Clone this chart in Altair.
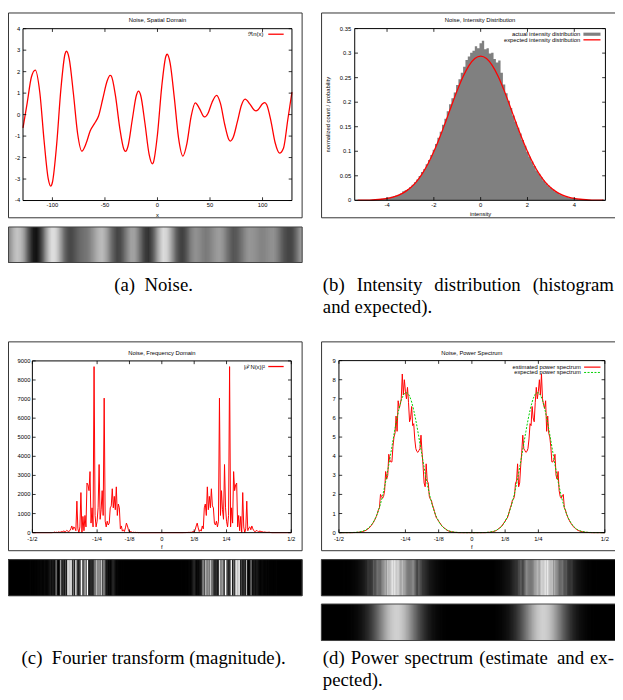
import altair as alt
import pandas as pd

# ---------------- values ----------------
# (a) noise n(x) in the spatial domain (samples + extrema)
noise_x = [-128, -124, -120, -116.3, -112, -108, -104, -101.6, -100, -96,
           -92, -88, -86.6, -84, -80, -76, -72, -68, -64, -60,
           -56, -52, -48, -45.1, -44, -40, -36, -32, -30.4, -28,
           -24, -20, -18, -16, -12, -8, -4.9, -4, 0, 4,
           8, 9.2, 12, 16, 20, 24.2, 28, 32, 36, 40,
           44, 45.1, 48, 52, 56.3, 60, 64, 68, 69.4, 72,
           76, 80, 83.4, 88, 92, 93.7, 96, 100, 102.2, 104,
           108, 112, 116.2, 120, 124, 128]
noise_v = [-0.62, 0.55, 1.75, 2.07, 1.03, -1.18, -2.98, -3.33, -3.15, -1.41,
           1.15, 2.82, 2.95, 2.60, 0.97, -0.89, -1.70, -1.35, -0.75, -0.42,
           -0.05, 0.75, 1.55, 1.83, 1.80, 0.88, -0.59, -1.61, -1.71, -1.46,
           -0.24, 0.91, 1.09, 0.90, -0.38, -1.84, -2.29, -2.24, -0.92, 1.28,
           2.72, 2.81, 2.41, 0.79, -1.07, -1.93, -1.35, -0.09, 0.55, 0.28,
           -0.09, -0.11, 0.05, 0.58, 0.90, 0.51, -0.46, -1.17, -1.23, -1.07,
           -0.34, 0.45, 0.72, 0.49, 0.21, 0.17, 0.24, 0.50, 0.56, 0.46,
           -0.30, -1.31, -1.79, -1.55, -0.25, 1.05]

# (b) histogram (bin centres -5.3 .. 5.3, step 0.1) and expected density
hist_center = [round(-5.3 + 0.1 * i, 1) for i in range(107)]
hist_value = [0.0000, 0.0003, 0.0000, 0.0004, 0.0006, 0.0008, 0.0006, 0.0012, 0.0015, 0.0018,
              0.0025, 0.0030, 0.0042, 0.0052, 0.0060, 0.0072, 0.0085, 0.0100, 0.0115, 0.0140,
              0.0185, 0.0205, 0.0230, 0.0270, 0.0315, 0.0370, 0.0425, 0.0495, 0.0575, 0.0640,
              0.0735, 0.0820, 0.0925, 0.1030, 0.1150, 0.1275, 0.1400, 0.1540, 0.1660, 0.1815,
              0.1960, 0.2080, 0.2200, 0.2350, 0.2470, 0.2600, 0.2720, 0.2860, 0.2930, 0.3010,
              0.3050, 0.3140, 0.3100, 0.3200, 0.3250, 0.3080, 0.3100, 0.2990, 0.3010, 0.2880,
              0.2810, 0.2850, 0.2600, 0.2360, 0.2180, 0.2030, 0.1880, 0.1730, 0.1600, 0.1480,
              0.1360, 0.1230, 0.1110, 0.0990, 0.0890, 0.0790, 0.0700, 0.0610, 0.0540, 0.0470,
              0.0405, 0.0350, 0.0300, 0.0255, 0.0220, 0.0180, 0.0150, 0.0125, 0.0105, 0.0085,
              0.0070, 0.0055, 0.0045, 0.0037, 0.0030, 0.0024, 0.0019, 0.0015, 0.0011, 0.0008,
              0.0006, 0.0005, 0.0003, 0.0002, 0.0002, 0.0001, 0.0000]
expected_x_half = [0.25 * i for i in range(22)]          # 0 .. 5.25
expected_half = [0.294, 0.2891, 0.2747, 0.2524, 0.2241, 0.1924, 0.1596, 0.1280, 0.0993, 0.0744,
                 0.0539, 0.0377, 0.0255, 0.0167, 0.0106, 0.0065, 0.0038, 0.0022, 0.0012, 0.0006,
                 0.0003, 0.0002]

# (c) |N|^2 for k = 0..128 (f = k/256), the spectrum is mirror symmetric
power_half = [0] * 22 + [5, 0, 10, 5, 15, 10, 20, 10, 40, 60,
              30, 150, 350, 500, 250, 60, 150, 80, 350, 200,
              1300, 1500, 900, 2400, 1200, 1900, 1300, 2300, 1400, 1300,
              500, 400, 600, 300, 600, 7050, 900, 2200, 1200, 700,
              3570, 1300, 600, 300, 900, 8700, 300, 1300, 500, 3200,
              2200, 2500, 2600, 300, 900, 100, 850, 0, 2100, 300,
              0, 200, 1650, 100, 250, 300, 150, 350, 200, 100,
              50, 80, 120, 60, 30, 100, 40, 60, 30, 20,
              40, 10, 20, 10, 30, 10, 5] + [0] * 20

# (d) estimated power spectrum (k/256) and expected one (j/128), halves
est_half = [0] * 14 + [0.005, 0.01, 0.015, 0.02, 0.03, 0.04,
            0.05, 0.06, 0.08, 0.10, 0.13, 0.18, 0.22, 0.25, 0.32, 0.35,
            0.45, 0.52, 0.60, 0.70, 0.75, 0.90, 1.10, 1.30, 1.45, 1.70,
            1.75, 1.90, 2.60, 2.70, 3.60, 2.40, 2.60, 3.50, 4.20, 5.10,
            4.40, 4.30, 4.20, 4.25, 4.40, 4.90, 5.70, 5.60, 6.60, 6.00,
            5.80, 6.80, 7.60, 7.00, 7.40, 8.00, 7.20, 8.30, 7.00, 6.70,
            6.50, 6.90, 5.30, 6.10, 5.20, 5.00, 4.50, 3.70, 3.70, 3.80,
            4.10, 3.00, 2.80, 3.20, 2.20, 1.90, 1.80, 1.90, 2.00, 1.30,
            1.20, 1.00, 0.85, 0.72, 0.62, 0.52, 0.44, 0.36, 0.30, 0.24,
            0.20, 0.16, 0.12, 0.10, 0.08, 0.06, 0.05, 0.04, 0.03, 0.02,
            0.015, 0.01, 0.01, 0.005, 0.005] + [0] * 14
exp_half = [0, 0.0005, 0.001, 0.0016, 0.003, 0.005, 0.008, 0.014, 0.023, 0.038,
            0.059, 0.091, 0.138, 0.206, 0.299, 0.425, 0.593, 0.810, 1.083, 1.419,
            1.822, 2.296, 2.826, 3.411, 4.031, 4.666, 5.293, 5.882, 6.403, 6.832,
            7.136, 7.301, 7.319, 7.187, 6.914, 6.516, 6.009, 5.434, 4.813, 4.177,
            3.551, 2.957, 2.413, 1.929, 1.506, 1.154, 0.868, 0.638, 0.460, 0.325,
            0.225, 0.152, 0.101, 0.066, 0.042, 0.026, 0.016, 0.010, 0.006, 0.003,
            0.002, 0.001, 0.0005, 0.0003, 0.0001]

assert len(noise_x) == len(noise_v)
assert len(hist_value) == len(hist_center)
assert len(power_half) == 129 and len(est_half) == 129 and len(exp_half) == 65

# tick values / labels
spatial_ticks = [-100, -50, 0, 50, 100]
amp_ticks = [-4, -3, -2, -1, 0, 1, 2, 3, 4]
intensity_ticks = [-4, -2, 0, 2, 4]
prob_ticks = [0, 0.05, 0.1, 0.15, 0.2, 0.25, 0.3, 0.35]
prob_labels = ["0", "0.05", "0.1", "0.15", "0.2", "0.25", "0.3", "0.35"]
freq_ticks = [-0.5, -0.25, -0.125, 0, 0.125, 0.25, 0.5]
freq_labels = ["-1/2", "-1/4", "-1/8", "0", "1/8", "1/4", "1/2"]
mag_ticks = [0, 1000, 2000, 3000, 4000, 5000, 6000, 7000, 8000, 9000]
ps_ticks = [0, 1, 2, 3, 4, 5, 6, 7, 8, 9]

# ---------------- derived tables ----------------
df_noise = pd.DataFrame({"x": noise_x, "v": noise_v})
df_hist = pd.DataFrame({"c": hist_center, "h": hist_value})
ex_x = [-v for v in expected_x_half[:0:-1]] + expected_x_half
ex_y = expected_half[:0:-1] + expected_half
df_exp_int = pd.DataFrame({"x": ex_x, "y": ex_y})
ks = list(range(-128, 129))
df_pow = pd.DataFrame({"f": [k / 256 for k in ks], "p": [power_half[abs(k)] for k in ks]})
df_est = pd.DataFrame({"f": [k / 256 for k in ks], "p": [est_half[abs(k)] for k in ks]})
js = list(range(-64, 65))
df_expd = pd.DataFrame({"f": [j / 128 for j in js], "p": [exp_half[abs(j)] for j in js]})

# ---------------- layout helpers (page pixels -> chart pixels) ----------------
OX = OY = 8.0
def px(v): return v - OX
def py(v): return v - OY

FONT = "Liberation Sans"
SERIF = "Liberation Serif"
FS = 5.9
CAP = 19
one = pd.DataFrame({"a": [0]})

def sx(domain, a, b, clamp=False):
    kw = dict(domain=domain, range=[px(a), px(b)], nice=False, zero=False)
    if clamp:
        kw["clamp"] = True
    return alt.Scale(**kw)

def sy(domain, bottom, top):
    return alt.Scale(domain=domain, range=[py(bottom), py(top)], nice=False, zero=False)

def text(s, x, y, size=FS, align="center", font=FONT, angle=0):
    kw = dict(text=s, fontSize=size, align=align, baseline="middle", font=font, color="black")
    if angle:
        kw["angle"] = angle
    return alt.Chart(one).mark_text(**kw).encode(x=alt.value(px(x)), y=alt.value(py(y)))

def hseg(x0, x1, y, color, width, dash=None):
    kw = dict(color=color, strokeWidth=width)
    if dash:
        kw["strokeDash"] = dash
    return alt.Chart(one).mark_rule(**kw).encode(
        x=alt.value(px(x0)), x2=alt.value(px(x1)), y=alt.value(py(y)))

def frame(x0, x1, y0, y1, color="#333333", width=1.0):
    return alt.Chart(one).mark_rect(fillOpacity=0, stroke=color, strokeWidth=width).encode(
        x=alt.value(px(x0)), x2=alt.value(px(x1)), y=alt.value(py(y0)), y2=alt.value(py(y1)))

def fillbox(x0, x1, y0, y1, color):
    return alt.Chart(one).mark_rect(color=color).encode(
        x=alt.value(px(x0)), x2=alt.value(px(x1)), y=alt.value(py(y0)), y2=alt.value(py(y1)))

def axes(xsc, ysc, box, xt, xl, yt, yl, xlab_y, ylab_x, tick=3.3):
    l, r, t, b = box
    dx = pd.DataFrame({"t": xt, "lab": xl})
    dy = pd.DataFrame({"t": yt, "lab": yl})
    X = alt.X("t:Q", scale=xsc, axis=None)
    Y = alt.Y("t:Q", scale=ysc, axis=None)
    rk = dict(color="black", strokeWidth=0.8)
    return [
        alt.Chart(dx).mark_rule(**rk).encode(x=X, y=alt.value(py(b)), y2=alt.value(py(b - tick))),
        alt.Chart(dx).mark_rule(**rk).encode(x=X, y=alt.value(py(t)), y2=alt.value(py(t + tick))),
        alt.Chart(dy).mark_rule(**rk).encode(y=Y, x=alt.value(px(l)), x2=alt.value(px(l + tick))),
        alt.Chart(dy).mark_rule(**rk).encode(y=Y, x=alt.value(px(r - tick)), x2=alt.value(px(r))),
        alt.Chart(dx).mark_text(fontSize=FS, font=FONT, align="center", baseline="middle", color="black").encode(
            x=X, y=alt.value(py(xlab_y)), text="lab:N"),
        alt.Chart(dy).mark_text(fontSize=FS, font=FONT, align="right", baseline="middle", color="black").encode(
            y=Y, x=alt.value(px(ylab_x)), text="lab:N"),
        frame(l, r, t, b, color="black", width=1.0),
    ]

GRAY = ["#000000", "#ffffff"]

def smooth_strip(df, xf, vf, xsc, csc, y0, y1, n):
    """Grey strip; shading between samples is a Catmull-Rom blend done by Vega.
    Each slice reaches well past its right neighbour; slices drawn later cover
    the excess, so no background seams show between slices."""
    step = 1.0 / n
    return alt.Chart(df).transform_window(
        window=[{"op": "lag", "field": vf, "param": 1, "as": "vp"},
                {"op": "lead", "field": vf, "param": 1, "as": "vn"},
                {"op": "lead", "field": vf, "param": 2, "as": "vn2"},
                {"op": "lead", "field": xf, "param": 1, "as": "xn"}],
        sort=[{"field": xf}], frame=[None, None]
    ).transform_filter("isValid(datum.xn)").transform_calculate(
        p0=f"isValid(datum.vp) ? datum.vp : datum.{vf}",
        p3="isValid(datum.vn2) ? datum.vn2 : datum.vn",
        t=f"sequence(0, 1, {step})"
    ).transform_flatten(["t"]).transform_calculate(
        xa=f"datum.{xf} + datum.t * (datum.xn - datum.{xf})",
        xb=f"datum.{xf} + (datum.t + {step} + 0.6) * (datum.xn - datum.{xf})",
        tm=f"datum.t + {0.5 * step}",
    ).transform_calculate(
        vv=(f"0.5 * (2 * datum.{vf} + (datum.vn - datum.p0) * datum.tm"
            f" + (2 * datum.p0 - 5 * datum.{vf} + 4 * datum.vn - datum.p3) * datum.tm * datum.tm"
            f" + (3 * datum.{vf} - datum.p0 - 3 * datum.vn + datum.p3) * datum.tm * datum.tm * datum.tm)")
    ).mark_rect().encode(
        x=alt.X("xa:Q", scale=xsc, axis=None), x2="xb:Q",
        y=alt.value(py(y0)), y2=alt.value(py(y1)),
        color=alt.Color("vv:Q", scale=csc, legend=None))

def bin_strip(df, xsc, csc, y0, y1, w):
    return alt.Chart(df).transform_calculate(
        x0=f"datum.f - {0.5 * w}", x1=f"datum.f + {3.0 * w}"
    ).mark_rect().encode(
        x=alt.X("x0:Q", scale=xsc, axis=None), x2="x1:Q",
        y=alt.value(py(y0)), y2=alt.value(py(y1)),
        color=alt.Color("p:Q", scale=csc, legend=None))

RED = "#ff0000"
GREEN = "#00d000"

# ---------------- panel (a) ----------------
BA = (23.2, 295.7, 24.4, 198.5)
XA = sx([-128, 128], BA[0], BA[1])
YA = sy([-4, 4], BA[3], BA[2])
line_a = alt.Chart(df_noise).mark_line(color=RED, strokeWidth=1.3, interpolate="monotone").encode(
    x=alt.X("x:Q", scale=XA, axis=None), y=alt.Y("v:Q", scale=YA, axis=None))
panel_a = alt.layer(line_a, *axes(XA, YA, BA, spatial_ticks, [str(t) for t in spatial_ticks],
                                  amp_ticks, [str(t) for t in amp_ticks], 203.3, 20.3))

# ---------------- panel (b) ----------------
BB = (359.3, 613.3, 24.3, 198.3)
XB = sx([-5.38, 5.33], BB[0], BB[1])
YB = sy([0, 0.35], BB[3], BB[2])
hist_b = alt.Chart(df_hist).transform_calculate(z="0").mark_area(
    color="#808080", interpolate="step").encode(
    x=alt.X("c:Q", scale=XB, axis=None), y=alt.Y("h:Q", scale=YB, axis=None), y2="z:Q")
line_b = alt.Chart(df_exp_int).mark_line(color=RED, strokeWidth=1.3, interpolate="monotone").encode(
    x=alt.X("x:Q", scale=XB, axis=None), y=alt.Y("y:Q", scale=YB, axis=None))
panel_b = alt.layer(hist_b, line_b, *axes(XB, YB, BB, intensity_ticks, [str(t) for t in intensity_ticks],
                                          prob_ticks, prob_labels, 203.3, 355.7))

# ---------------- panel (c) ----------------
BC = (32.7, 295.0, 361.0, 535.0)
XC = sx([-0.5, 0.5], BC[0], BC[1])
YC = sy([0, 9000], BC[3], BC[2])
line_c = alt.Chart(df_pow).mark_line(color=RED, strokeWidth=1.0).encode(
    x=alt.X("f:Q", scale=XC, axis=None), y=alt.Y("p:Q", scale=YC, axis=None))
panel_c = alt.layer(line_c, *axes(XC, YC, BC, freq_ticks, freq_labels,
                                  mag_ticks, [str(t) for t in mag_ticks], 541.0, 30.7))

# ---------------- panel (d) ----------------
BD = (343.3, 612.7, 360.7, 535.0)
XD = sx([-0.5, 0.5], BD[0], BD[1])
YD = sy([0, 9], BD[3], BD[2])
line_d1 = alt.Chart(df_est).mark_line(color=RED, strokeWidth=1.0).encode(
    x=alt.X("f:Q", scale=XD, axis=None), y=alt.Y("p:Q", scale=YD, axis=None))
line_d2 = alt.Chart(df_expd).mark_line(color=GREEN, strokeWidth=1.0, strokeDash=[2, 1.5],
                                       interpolate="monotone").encode(
    x=alt.X("f:Q", scale=XD, axis=None), y=alt.Y("p:Q", scale=YD, axis=None))
panel_d = alt.layer(line_d1, line_d2, *axes(XD, YD, BD, freq_ticks, freq_labels,
                                            ps_ticks, [str(t) for t in ps_ticks], 541.0, 340.0))

# ---------------- grey strips ----------------
under = [
    fillbox(8.5, 306, 225.3, 261.3, "#6e6e6e"),
    fillbox(8.5, 306, 562.3, 599.0, "#000000"),
    fillbox(325.5, 640, 562.3, 599.0, "#000000"),
    fillbox(325.5, 640, 607.3, 644.3, "#000000"),
]
strip_a = smooth_strip(df_noise, "x", "v", sx([-128, 128], 5, 306, clamp=True),
                       alt.Scale(domain=[-4, 4], range=GRAY, interpolate="rgb", clamp=True),
                       225.3, 261.3, 8)
strip_c = bin_strip(df_pow, sx([-0.5, 0.5], 5, 306, clamp=True),
                    alt.Scale(domain=[0, 3000], range=GRAY, interpolate="rgb", clamp=True),
                    562.3, 599.0, 1 / 256)
strip_d1 = bin_strip(df_est, sx([-0.5, 0.5], 325.5, 626.5, clamp=True),
                     alt.Scale(domain=[0, 9], range=GRAY, interpolate="rgb", clamp=True),
                     562.3, 599.0, 1 / 256)
strip_d2 = smooth_strip(df_expd, "f", "p", sx([-0.5, 0.5], 325.5, 626.5, clamp=True),
                        alt.Scale(domain=[0, 9], range=GRAY, interpolate="rgb", clamp=True),
                        607.3, 644.3, 4)

Y1, Y2 = 284.0, 306.0     # caption rows, top figure pair
Y3, Y4 = 662.0, 684.0     # caption rows, bottom figure pair

def cap(s, x, y, align="left"):
    return text(s, x, y, size=CAP, font=SERIF, align=align)

decor = [
    # gnuplot canvas frames
    frame(8.5, 306, 8.5, 216), frame(325.7, 640, 8.5, 216),
    frame(8.5, 306, 341.7, 553.3), frame(325.7, 640, 341.7, 553.3),
    # titles
    text("Noise, Spatial Domain", 159.5, 15.7),
    text("Noise, Intensity Distribution", 486.3, 15.7),
    text("Noise, Frequency Domain", 163.9, 352.7),
    text("Noise, Power Spectrum", 478.0, 352.7),
    # axis titles
    text("x", 159.5, 213.0), text("intensity", 486.8, 212.3),
    text("normalized count / probability", 332.3, 111.5, angle=270),
    text("f", 163.8, 549.5), text("f", 478.0, 549.3),
    # legends
    text("ℜn(x)", 266.7, 30.0, align="right"), hseg(271.7, 287.3, 30.0, RED, 1.3),
    text("actual intensity distribution", 587.7, 30.0, align="right"),
    fillbox(591.0, 608.3, 28.4, 31.6, "#808080"),
    text("expected intensity distribution", 587.7, 35.7, align="right"),
    hseg(591.0, 608.3, 35.7, RED, 1.3),
    text("|ℱN(x)|²", 268.3, 366.7, align="right"), hseg(271.7, 287.3, 366.7, RED, 1.3),
    text("estimated power spectrum", 588.3, 367.3, align="right"),
    hseg(591.7, 608.3, 367.3, RED, 1.2),
    text("expected power spectrum", 588.3, 372.7, align="right"),
    hseg(591.7, 608.3, 372.7, GREEN, 1.0, dash=[2, 1.5]),
    # strip borders
    frame(8.5, 306, 225.3, 261.3, color="#444444"),
    frame(8.5, 306, 562.3, 599.0, color="#444444"),
    frame(325.5, 640, 562.3, 599.0, color="#444444"),
    frame(325.5, 640, 607.3, 644.3, color="#444444"),
    # captions (justified lines are placed word by word)
    cap("(a)\u2002Noise.", 155.5, Y1, align="center"),
    cap("(b)", 327.0, Y1), cap("Intensity", 361.3, Y1),
    cap("distribution", 439.9, Y1), cap("(histogram", 539.6, Y1),
    cap("and expected).", 327.0, Y2),
    cap("(c)\u2002Fourier transform (magnitude).", 155.5, Y3, align="center"),
    cap("(d)", 327.0, Y3), cap("Power", 355.2, Y3), cap("spectrum", 409.7, Y3),
    cap("(estimate", 485.4, Y3), cap("and", 564.2, Y3), cap("ex-", 597.6, Y3),
    cap("pected).", 327.0, Y4),
]

chart = alt.layer(
    panel_a, panel_b, panel_c, panel_d, *under,
    strip_a, strip_c, strip_d1, strip_d2, *decor
).resolve_scale(
    x="independent", y="independent", color="independent"
).properties(
    width=615, height=692, padding=0, autosize=alt.AutoSizeParams(type="none")
).configure_view(stroke=None)

chart.save("out.html", embed_options={"renderer": "svg", "actions": False})
